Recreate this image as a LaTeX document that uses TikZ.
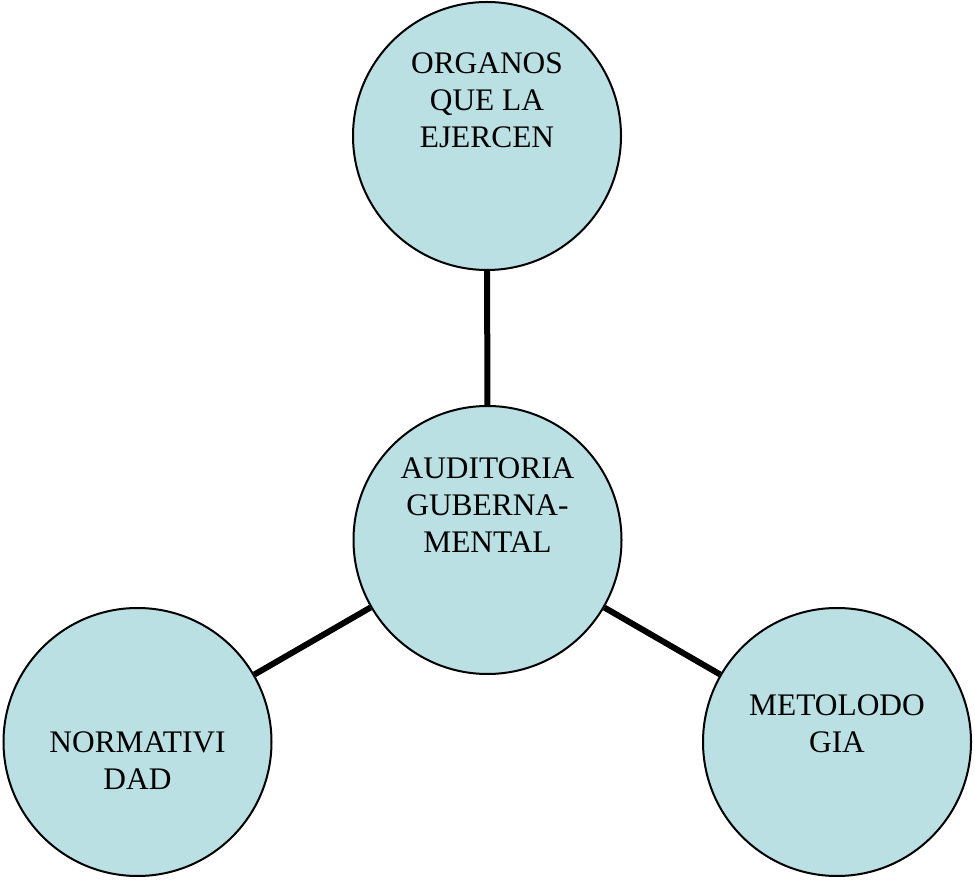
\documentclass[tikz,border=0pt]{standalone}
\usepackage{fontspec}
\setmainfont{Liberation Serif}
\definecolor{bubblefill}{RGB}{186,224,227}
\begin{document}
\begin{tikzpicture}[x=0.5pt,y=-0.5pt]
	% Styles
	\tikzset{bubble/.style={circle, draw=black, line width=1pt, fill=bubblefill, minimum size=134pt, inner sep=0pt}}
	\tikzset{caption/.style={align=center, inner sep=0pt, anchor=north, font=\fontsize{15.7}{18.5}\selectfont}}
	\tikzset{spoke/.style={line width=3pt}}
	\useasboundingbox (0,0) rectangle (975,881);

	% Draw the circles
	\node[bubble] (audit) at (487.5,540) {};
	\node[bubble] (organos) at (487,136) {};
	\node[bubble] (norma) at (137.5,742) {};
	\node[bubble] (metodo) at (837,742) {};

	% Connect them to the middle
	\draw[spoke] (audit) -- (organos);
	\draw[spoke] (audit) -- (norma);
	\draw[spoke] (audit) -- (metodo);

	% Texts
	\node[caption] (audittext) at (487.5,457) {AUDITORIA\\GUBERNA-\\MENTAL};
	\node[caption] (organostext) at (487,52) {ORGANOS\\QUE LA\\EJERCEN};
	\node[caption] (normatext) at (137.5,731) {NORMATIVI\\DAD};
	\node[caption] (metodotext) at (837,694) {METOLODO\\GIA};

\end{tikzpicture}
\end{document}
